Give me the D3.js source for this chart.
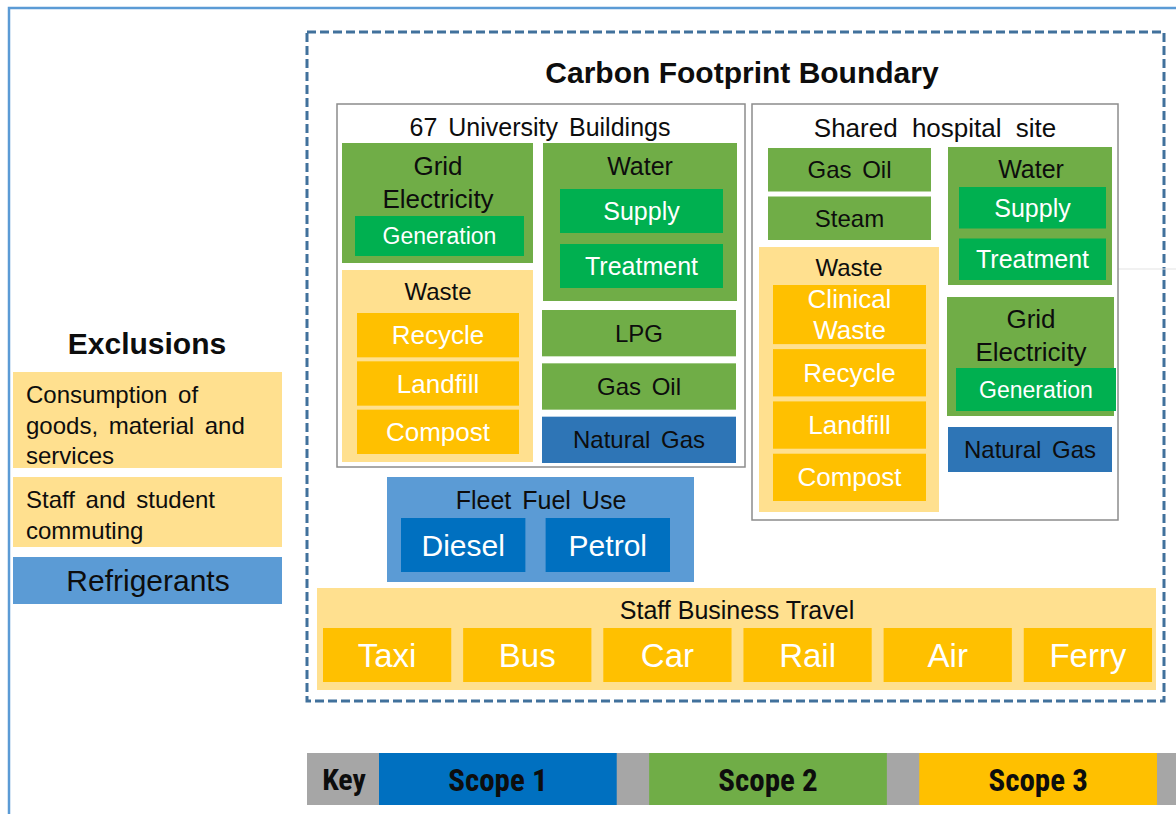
<!DOCTYPE html>
<html>
<head>
<meta charset="utf-8">
<script src="https://cdn.jsdelivr.net/npm/d3@7"></script>
<style>
  html, body { margin: 0; padding: 0; background: #fff; }
  svg { display: block; font-family: "Liberation Sans", Arial, sans-serif; }
  .narrow { font-family: "Liberation Sans Narrow", "Roboto Condensed", "DejaVu Sans Condensed", sans-serif; }
</style>
</head>
<body>
<svg id="chart"></svg>
<script>
// ---- diagram content ----
var scopeNames = ['Scope 1', 'Scope 2', 'Scope 3'];
var exclusionLines = [['Consumption of', 'goods, material and', 'services'], ['Staff and student', 'commuting'], ['Refrigerants']];
var exclusionScopes = [3, 3, 1];
var gridParts = ['Generation'];
var waterStages = ['Supply', 'Treatment'];
var universityWaste = ['Recycle', 'Landfill', 'Compost'];
var hospitalWaste = ['Clinical\nWaste', 'Recycle', 'Landfill', 'Compost'];
var universityFuels = ['LPG', 'Gas Oil', 'Natural Gas'];
var universityFuelScopes = [2, 2, 1];
var hospitalFuels = ['Gas Oil', 'Steam'];
var hospitalFuelScopes = [2, 2];
var hospitalOtherFuels = ['Natural Gas'];
var hospitalOtherScopes = [1];
var fleetFuels = ['Diesel', 'Petrol'];
var travelModes = ['Taxi', 'Bus', 'Car', 'Rail', 'Air', 'Ferry'];

(function () {
    var W = 1176, H = 814;

    // scope -> colours (container shade, item shade)
    var groupFill = d3.scaleOrdinal().domain([1, 2, 3]).range(['#5b9bd5', '#70ad47', '#ffe08f']);
    var itemFill = d3.scaleOrdinal().domain([1, 2, 3]).range(['#0070c0', '#00b050', '#ffc000']);
    var keyFill = d3.scaleOrdinal().domain(scopeNames).range(['#0070c0', '#70ad47', '#ffc000']);

    var svg = d3.select('#chart').attr('width', W).attr('height', H);
    var dark = '#0d0d0d', white = '#ffffff';

    function rect(x, y, w, h, fill) {
        return svg.append('rect')
            .attr('x', x).attr('y', y)
            .attr('width', w).attr('height', h)
            .attr('fill', fill);
    }

    function label(lines, cx, cy, size, color, lineH, cls) {
        if (typeof lines === 'string') { lines = lines.split('\n'); }
        lineH = lineH || size * 1.2;
        var top = cy - (lines.length - 1) * lineH / 2;
        var t = svg.append('text')
            .attr('class', cls || null)
            .attr('text-anchor', 'middle')
            .attr('font-size', size)
            .attr('fill', color)
            .style('word-spacing', '4px');
        lines.forEach(function (l, i) {
            t.append('tspan')
                .attr('x', cx)
                .attr('y', top + i * lineH + size * 0.35)
                .text(l);
        });
        return t;
    }

    // column of items; taller slots for two-line names
    function stack(names, scopes, x0, x1, y0, y1, gap, size, color, fillFn) {
        var wts = names.map(function (n) { return 1 + 0.25 * (n.split('\n').length - 1); });
        var ends = d3.cumsum(wts);
        var y = d3.scaleLinear().domain([0, d3.sum(wts)]).range([y0, y1 - gap * (names.length - 1)]);
        names.forEach(function (n, i) {
            var top = y(ends[i] - wts[i]) + gap * i,
                h = y(ends[i]) - y(ends[i] - wts[i]);
            rect(x0, top, x1 - x0, h, fillFn(scopes[i]));
            label(n, (x0 + x1) / 2, top + h / 2, size, color, size * 1.18);
        });
    }

    // row of items laid out with a band scale
    function row(names, x0, x1, y0, y1, pad, size, fill, color, cls) {
        var x = d3.scaleBand().domain(names).range([x0, x1]).paddingInner(pad);
        names.forEach(function (n) {
            rect(x(n), y0, x.bandwidth(), y1 - y0, fill);
            label(n, x(n) + x.bandwidth() / 2, (y0 + y1) / 2, size, color, null, cls);
        });
    }

    // outer frame
    svg.append('path')
        .attr('d', 'M9,' + H + 'V8H' + W)
        .attr('fill', 'none').attr('stroke', '#5b9bd5').attr('stroke-width', 2.5);

    // carbon footprint boundary
    svg.append('rect')
        .attr('x', 307).attr('y', 32).attr('width', 857).attr('height', 669)
        .attr('fill', 'none').attr('stroke', '#41719c')
        .attr('stroke-width', 3).attr('stroke-dasharray', '9,4');
    label('Carbon Footprint Boundary', 742, 72, 30, dark).attr('font-weight', 'bold').style('word-spacing', '0px');

    // faint guide line
    svg.append('line').attr('x1', 1108).attr('x2', W).attr('y1', 269).attr('y2', 269)
        .attr('stroke', '#e3e3e3').attr('stroke-width', 1);

    // ---- 67 University Buildings ----
    rect(337, 104, 408, 363, '#fff').attr('stroke', '#8c8c8c').attr('stroke-width', 1.5);
    label('67 University Buildings', 540, 127, 25, dark);

    rect(342, 143, 191, 120, groupFill(2));
    label(['Grid', 'Electricity'], 438, 182.5, 26, dark, 33);
    stack(gridParts, [2], 355, 524, 216, 256, 0, 23, white, itemFill);

    rect(543, 143, 194, 158, groupFill(2));
    label('Water', 640, 166, 25, dark);
    stack(waterStages, [2, 2], 560, 723, 189, 288, 11, 25, white, itemFill);

    rect(342, 270, 191, 192, groupFill(3));
    label('Waste', 438, 292, 24, dark);
    stack(universityWaste, [3, 3, 3], 357, 519, 313, 454, 4, 26, white, itemFill);

    stack(universityFuels, universityFuelScopes, 542, 736, 310, 463, 7, 24, dark,
        function (s) { return s === 1 ? '#2e75b6' : groupFill(s); });

    // ---- Shared hospital site ----
    rect(752, 104, 366, 416, '#fff').attr('stroke', '#8c8c8c').attr('stroke-width', 1.5);
    label('Shared hospital site', 935, 128, 26, dark).style('word-spacing', '7px');

    stack(hospitalFuels, hospitalFuelScopes, 768, 931, 148, 240, 5, 24, dark, groupFill);

    rect(759, 247, 180, 265, groupFill(3));
    label('Waste', 849, 268, 24, dark);
    stack(hospitalWaste, [3, 3, 3, 3], 773, 926, 285, 501, 5, 26, white, itemFill);

    rect(948, 147, 164, 138, groupFill(2));
    label('Water', 1031, 169, 25, dark);
    stack(waterStages, [2, 2], 959, 1106, 187, 280, 10, 25, white, itemFill);

    rect(947, 297, 167, 119, groupFill(2));
    label(['Grid', 'Electricity'], 1031, 335.5, 26, dark, 33);
    stack(gridParts, [2], 956, 1116, 368, 411, 0, 23, white, itemFill);

    stack(hospitalOtherFuels, hospitalOtherScopes, 948, 1112, 427, 472, 0, 24, dark,
        function () { return '#2e75b6'; });

    // ---- Fleet fuel use ----
    rect(387, 477, 307, 105, groupFill(1));
    label('Fleet Fuel Use', 541, 500, 25, dark);
    row(fleetFuels, 401, 670, 518, 572, 0.14, 30, itemFill(1), white);

    // ---- Staff business travel ----
    rect(317, 588, 839, 102, groupFill(3));
    label('Staff Business Travel', 737, 610, 25, dark).style('word-spacing', '0px');
    row(travelModes, 323, 1152, 628, 682, 0.085, 33, itemFill(3), white);

    // ---- Exclusions ----
    label('Exclusions', 147, 343, 30, dark).attr('font-weight', 'bold');
    var exY = [372, 477, 557], exH = [96, 70, 47];
    exclusionLines.forEach(function (lines, i) {
        var s = exclusionScopes[i];
        rect(13, exY[i], 269, exH[i], groupFill(s));
        if (lines.length === 1) {
            label(lines, 148, exY[i] + exH[i] / 2, 30, dark);
        } else {
            var t = svg.append('text').attr('font-size', 24).attr('fill', dark).style('word-spacing', '4px');
            lines.forEach(function (l, j) {
                t.append('tspan').attr('x', 26).attr('y', exY[i] + 23 + j * 30.5 + 24 * 0.35).text(l);
            });
        }
    });

    // ---- Key ----
    rect(307, 753, W - 307, 52, '#a6a6a6');
    label('Key', 344, 779, 30, dark, null, 'narrow').attr('font-weight', 'bold').style('word-spacing', '0px');
    var kx = d3.scaleBand().domain(scopeNames).range([379, 1157]).paddingInner(0.12);
    scopeNames.forEach(function (n) {
        rect(kx(n), 753, kx.bandwidth(), 52, keyFill(n));
        label(n, kx(n) + kx.bandwidth() / 2, 780, 31, dark, null, 'narrow')
            .attr('font-weight', 'bold').style('word-spacing', '0px');
    });
})();
</script>
</body>
</html>
